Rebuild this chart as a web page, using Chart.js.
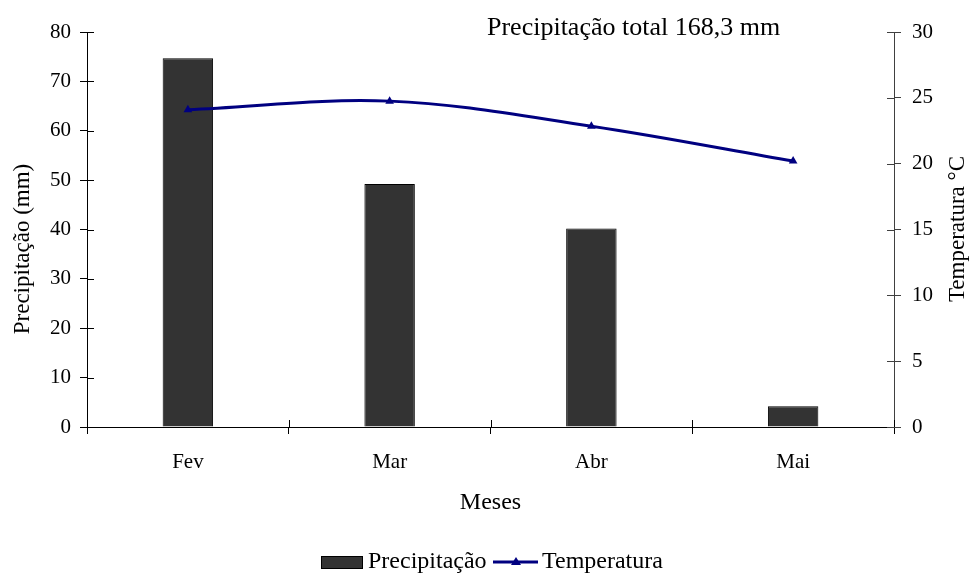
<!DOCTYPE html>
<html>
<head>
<meta charset="utf-8">
<script src="https://cdn.jsdelivr.net/npm/chart.js@4/dist/chart.umd.min.js"></script>
<style>
  html, body { margin: 0; padding: 0; background: #fff; }
  #wrap { width: 970px; height: 577px; }
</style>
</head>
<body>
<div id="wrap"><canvas id="c" width="970" height="577"></canvas></div>
<script>
// Monthly rainfall (mm) and mean air temperature (°C)
const meses = ['Fev', 'Mar', 'Abr', 'Mai'];
const precipitacao = [74.7, 49.2, 40.2, 4.2];
const temperatura = [24.1, 24.75, 22.85, 20.2];
const ticksPrecip = { min: 0, max: 80, step: 10 };
const ticksTemp = { min: 0, max: 30, step: 5 };

const FONT = 'Liberation Serif, Times New Roman, serif';
const TICK = 21;
const AXIS_TITLE = 23;
const LEGEND = 24;
const NAVY = '#000080';
const BAR = '#333333';

const total = precipitacao.reduce((a, b) => a + b, 0);
const totalText = 'Precipitação total ' + total.toFixed(1).replace('.', ',') + ' mm';

function vText(ctx, text, x, y, size) {
  ctx.save();
  ctx.translate(x, y);
  ctx.rotate(-Math.PI / 2);
  ctx.font = size + 'px ' + FONT;
  ctx.textAlign = 'center';
  ctx.textBaseline = 'middle';
  ctx.fillStyle = '#000';
  ctx.fillText(text, 0, 0);
  ctx.restore();
}

// Crossing ticks, vertical axis titles, the total label and the legend
const extras = {
  id: 'extras',
  afterDraw(chart) {
    const ctx = chart.ctx;
    const { x, y, y1 } = chart.scales;
    const area = chart.chartArea;
    ctx.save();
    ctx.lineWidth = 1;
    ctx.strokeStyle = '#000';
    ctx.beginPath();
    y.ticks.forEach(t => {
      const py = Math.round(y.getPixelForValue(t.value)) + 0.5;
      ctx.moveTo(area.left, py); ctx.lineTo(area.left + 7, py);
    });
    ctx.stroke();
    ctx.strokeStyle = '#404040';
    ctx.beginPath();
    y1.ticks.forEach(t => {
      const py = Math.round(y1.getPixelForValue(t.value)) + 0.5;
      ctx.moveTo(area.right, py); ctx.lineTo(area.right - 7, py);
    });
    ctx.stroke();
    ctx.strokeStyle = '#000';
    ctx.beginPath();
    const step = x.getPixelForTick(1) - x.getPixelForTick(0);
    for (let i = 0; i <= meses.length; i++) {
      const px = Math.round(x.getPixelForTick(0) - step / 2 + i * step) + 0.5;
      ctx.moveTo(px, area.bottom); ctx.lineTo(px, area.bottom - 7);
    }
    ctx.stroke();

    // axis titles read bottom-to-top on both sides
    vText(ctx, 'Precipitação (mm)', 23, 249, AXIS_TITLE);
    vText(ctx, 'Temperatura °C', 958, 229, AXIS_TITLE);

    // total rainfall label
    ctx.fillStyle = '#000';
    ctx.font = '26px ' + FONT;
    ctx.textAlign = 'left';
    ctx.textBaseline = 'middle';
    ctx.fillText(totalText, 487, 28);

    // legend
    const ly = 562;
    ctx.font = LEGEND + 'px ' + FONT;
    ctx.fillStyle = BAR;
    ctx.fillRect(321, ly - 6, 42, 13);
    ctx.strokeStyle = '#000';
    ctx.strokeRect(321.5, ly - 5.5, 41, 12);
    ctx.fillStyle = '#000';
    ctx.fillText(chart.data.datasets[0].label, 368, ly);
    ctx.strokeStyle = NAVY;
    ctx.lineWidth = 3;
    ctx.beginPath(); ctx.moveTo(493, ly); ctx.lineTo(538, ly); ctx.stroke();
    ctx.fillStyle = NAVY;
    ctx.beginPath(); ctx.moveTo(516, ly - 5); ctx.lineTo(521, ly + 3); ctx.lineTo(511, ly + 3); ctx.closePath(); ctx.fill();
    ctx.fillStyle = '#000';
    ctx.fillText(chart.data.datasets[1].label, 542, ly);
    ctx.restore();
  }
};

new Chart(document.getElementById('c'), {
  data: {
    labels: meses,
    datasets: [
      {
        type: 'bar',
        label: 'Precipitação',
        data: precipitacao,
        yAxisID: 'y',
        backgroundColor: BAR,
        borderColor: '#000',
        borderWidth: 1,
        categoryPercentage: 1,
        barPercentage: 0.25,
        order: 2
      },
      {
        type: 'line',
        label: 'Temperatura',
        data: temperatura,
        yAxisID: 'y1',
        borderColor: NAVY,
        backgroundColor: NAVY,
        borderWidth: 3,
        tension: 0.35,
        pointStyle: 'triangle',
        pointRadius: 5,
        pointBorderWidth: 0,
        order: 1
      }
    ]
  },
  options: {
    responsive: false,
    animation: false,
    layout: { padding: { top: 32, left: 0, right: 0, bottom: 0 } },
    plugins: { legend: { display: false }, tooltip: { enabled: false } },
    scales: {
      x: {
        grid: { offset: true, drawOnChartArea: false, tickLength: 7, color: '#000' },
        border: { color: '#000' },
        ticks: { color: '#000', font: { family: FONT, size: TICK }, padding: 16, maxRotation: 0 },
        title: { display: true, text: 'Meses', color: '#000', font: { family: FONT, size: LEGEND }, padding: { top: 0, bottom: 60 } },
        afterFit(s) { s.height = 150; }
      },
      y: {
        position: 'left',
        min: ticksPrecip.min, max: ticksPrecip.max,
        grid: { drawOnChartArea: false, tickLength: 7, color: '#000' },
        border: { color: '#000' },
        ticks: { stepSize: ticksPrecip.step, color: '#000', font: { family: FONT, size: TICK }, padding: 9 },
        afterFit(s) { s.width = 87; }
      },
      y1: {
        position: 'right',
        min: ticksTemp.min, max: ticksTemp.max,
        grid: { drawOnChartArea: false, tickLength: 7, color: '#404040' },
        border: { color: '#404040' },
        ticks: { stepSize: ticksTemp.step, color: '#000', font: { family: FONT, size: TICK }, padding: 11 },
        afterFit(s) { s.width = 76; }
      }
    }
  },
  plugins: [extras]
});
</script>
</body>
</html>
